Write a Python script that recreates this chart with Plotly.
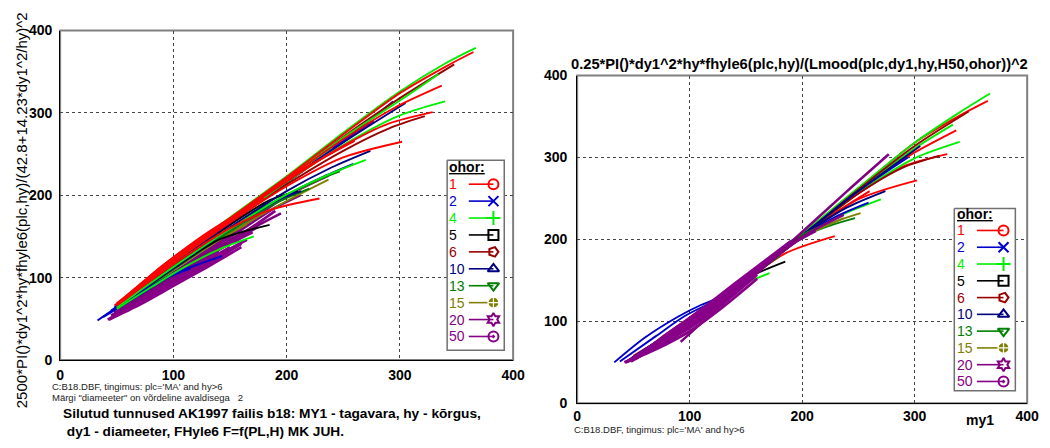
import plotly.graph_objects as go

W, H = 1050, 448

# ---------------- legend categories ----------------
ohor_labels = ['1', '2', '4', '5', '6', '10', '13', '15', '20', '50']
ohor_colors = ['#ff0000', '#0000cc', '#00ee00', '#000000', '#990000',
               '#000080', '#008000', '#808000', '#800080', '#880088']
ohor_symbols = ['circle-open', 'x-thin-open', 'cross-thin-open', 'square-open',
                'pentagon-open', 'triangle-up-open', 'triangle-down-open',
                'circle-cross', 'hexagram-open', 'circle-open-dot']

# ---------------- data: my1 (x), left-panel y, right-panel y per curve ----------------
x_1 = [[50, 100, 150, 200, 250, 300, 340, 365], [52, 100, 150, 200, 250, 295, 337],
       [52, 100, 150, 200, 250, 290, 329], [55, 100, 150, 200, 250, 302],
       [50, 100, 150, 185, 229], [48, 100, 150, 200, 260], [55, 100, 150, 205],
       [50, 100, 150, 180], [52, 100, 140, 165], [50, 90, 125, 150], [55, 90, 120]]
left_1 = [[69, 121, 172, 222, 274, 324, 356, 374], [70, 121, 171, 220, 268, 306, 333],
          [70, 120, 170, 217, 260, 287, 301], [71, 119, 167, 211, 246, 265],
          [66, 116, 160, 182, 196], [66, 120, 171, 220, 266], [72, 122, 172, 221],
          [68, 120, 169, 197], [69, 119, 160, 183], [68, 114, 150, 172], [72, 114, 144]]
right_1 = [[58, 100, 151, 206, 262, 318, 351, 369], [59, 101, 152, 205, 260, 302, 333],
           [58, 100, 151, 204, 256, 289, 304], [60, 101, 151, 203, 249, 272],
           [56, 100, 150, 183, 204], [55, 100, 152, 206, 259], [60, 102, 154, 208],
           [56, 101, 153, 186], [57, 100, 143, 172], [56, 92, 128, 156], [60, 95, 124]]

x_2 = [[48, 100, 150, 200, 250, 294], [45, 100, 150, 200, 230, 259],
       [33, 60, 90, 110, 128, 143], [38, 70, 95, 115]]
left_2 = [[64, 117, 167, 216, 266, 314], [60, 112, 159, 200, 221, 238],
          [48, 73, 97, 110, 119, 126], [52, 79, 100, 111]]
right_2 = [[55, 102, 153, 205, 259, 300], [52, 103, 153, 204, 228, 245],
           [50, 80, 106, 120, 130, 140], [51, 82, 106, 120]]

x_4 = [[55, 100, 150, 200, 250, 300, 340, 367], [55, 100, 150, 200, 250, 300, 334],
       [55, 100, 150, 200, 250, 300, 340], [50, 100, 150, 200, 235, 270],
       [50, 80, 110, 140, 171], [52, 100, 150, 200, 240]]
left_4 = [[71, 122, 173, 223, 276, 326, 360, 379], [70, 120, 170, 220, 270, 315, 347],
          [69, 119, 168, 216, 261, 297, 314], [64, 113, 159, 201, 224, 243],
          [62, 88, 113, 134, 150], [70, 121, 171, 220, 258]]
right_4 = [[59, 101, 153, 207, 263, 318, 355, 378], [58, 100, 152, 205, 260, 311, 340],
           [58, 100, 151, 204, 257, 299, 319], [55, 101, 151, 203, 230, 249],
           [53, 82, 113, 140, 159], [57, 101, 152, 206, 246]]

x_5 = [[50, 100, 140, 162, 185], [50, 100, 150, 185, 210]]
left_5 = [[63, 111, 146, 156, 164], [65, 115, 164, 194, 205]]
right_5 = [[55, 101, 144, 160, 173], [55, 101, 151, 192, 210]]

x_6 = [[55, 100, 150, 200, 250, 300, 348], [55, 100, 150, 200, 250, 290, 322]]
left_6 = [[70, 120, 171, 221, 271, 318, 359], [69, 118, 167, 213, 254, 281, 296]]
right_6 = [[58, 100, 152, 205, 261, 314, 356], [58, 100, 151, 204, 256, 288, 302]]

x_10 = [[50, 100, 150, 200, 250, 305], [50, 100, 150, 200, 240, 274],
        [50, 100, 150, 190, 213]]
left_10 = [[65, 116, 166, 215, 264, 312], [64, 113, 161, 205, 234, 254],
           [63, 112, 160, 193, 205]]
right_10 = [[56, 101, 152, 205, 259, 314], [55, 101, 151, 204, 239, 259],
            [54, 100, 150, 195, 212]]

x_13 = [[50, 100, 150, 200, 225, 247], [50, 100, 150, 190, 220], [50, 100, 150, 180]]
left_13 = [[63, 111, 158, 200, 217, 229], [62, 110, 156, 190, 208], [63, 112, 160, 188]]
right_13 = [[55, 101, 151, 203, 217, 226], [54, 100, 150, 198, 218], [54, 100, 150, 180]]

x_15 = [[50, 100, 150, 200, 230, 252], [50, 100, 150, 200, 237],
        [50, 100, 150, 195], [48, 90, 130, 165]]
left_15 = [[63, 111, 158, 199, 220, 234], [62, 109, 154, 193, 219],
           [62, 110, 157, 196], [60, 102, 138, 165]]
right_15 = [[55, 100, 150, 203, 222, 232], [54, 100, 150, 202, 226],
            [54, 100, 150, 198], [52, 92, 130, 165]]

x_20 = [[48, 100, 150, 200, 237], [48, 100, 150, 190, 212],
        [92, 150, 200, 240, 277], [50, 100, 150, 175], [52, 100, 140, 170, 195]]
left_20 = [[59, 106, 152, 199, 224], [58, 104, 149, 185, 200],
           [108, 166, 216, 256, 290], [58, 102, 146, 165], [59, 101, 136, 160, 178]]
right_20 = [[51, 97, 149, 203, 230], [51, 97, 148, 193, 210],
            [75, 147, 209, 259, 304], [53, 98, 150, 177], [54, 97, 140, 172, 198]]

x_50 = [[43, 70, 100, 130, 160], [45, 70, 100, 130, 155], [47, 75, 100, 130, 150],
        [50, 75, 100, 125, 145], [50, 80, 110, 140], [52, 80, 105, 130],
        [55, 80, 100, 120], [45, 70, 95, 120, 150, 175], [48, 80, 110, 140, 165, 190],
        [42, 70, 100, 130, 160], [46, 75, 105, 135, 165], [50, 80, 110, 140, 170],
        [55, 85, 115, 145], [60, 90, 120, 150], [52, 82, 112, 142, 158]]
left_50 = [[49, 67, 90, 113, 137], [51, 70, 94, 118, 138], [53, 76, 97, 121, 137],
           [56, 78, 101, 122, 139], [57, 83, 108, 132], [58, 85, 106, 127],
           [61, 85, 102, 120], [54, 73, 95, 117, 142, 162], [56, 83, 110, 136, 157, 181],
           [49, 70, 93, 116, 141], [53, 77, 101, 124, 146], [57, 82, 109, 134, 155],
           [61, 88, 114, 139], [65, 92, 119, 144], [58, 85, 112, 137, 146]]
right_50 = [[50, 66, 88, 118, 152], [51, 70, 93, 124, 152], [52, 75, 97, 128, 150],
            [54, 78, 101, 128, 148], [55, 82, 110, 142], [56, 84, 108, 133],
            [58, 85, 104, 124], [52, 72, 96, 122, 154, 180], [53, 83, 114, 146, 172, 198],
            [50, 68, 92, 122, 157], [52, 74, 101, 133, 166], [54, 80, 109, 142, 174],
            [57, 86, 116, 150], [60, 90, 120, 155], [55, 84, 113, 146, 161]]

groups = [('1', x_1, left_1, right_1), ('2', x_2, left_2, right_2),
          ('4', x_4, left_4, right_4), ('5', x_5, left_5, right_5),
          ('6', x_6, left_6, right_6), ('10', x_10, left_10, right_10),
          ('13', x_13, left_13, right_13), ('15', x_15, left_15, right_15),
          ('20', x_20, left_20, right_20), ('50', x_50, left_50, right_50)]

# drawing order per panel (later = on top)
order_left = ['50', '20', '15', '13', '5', '10', '2', '6', '4', '1']
order_right = ['1', '4', '6', '2', '10', '5', '13', '15', '20', '50']
line_widths = {'50': 2.8, '20': 2.5}

left_title = "2500*PI()*dy1^2*hy*fhyle6(plc,hy)/(42.8+14.23*dy1^2/hy)^2"
right_title = "0.25*PI()*dy1^2*hy*fhyle6(plc,hy)/(Lmood(plc,dy1,hy,H50,ohor))^2"
foot1 = "C:B18.DBF, tingimus: plc='MA' and hy>6"
foot2 = "Märgi \"diameeter\" on võrdeline avaldisega   2"
bottom1 = "Silutud tunnused AK1997 failis b18: MY1 - tagavara, hy - kõrgus,"
bottom2 = " dy1 - diameeter, FHyle6 F=f(PL,H) MK JUH."
x_name = "my1"

FONT = "Liberation Sans, Arial, sans-serif"


def px(x):
    return x / W


def py(y):
    return 1 - y / H


def note(x, y, text, size, weight='normal', color='black', anchor='left', angle=0):
    return dict(x=px(x), y=py(y), xref='paper', yref='paper', text=text, showarrow=False,
                xanchor=anchor, yanchor='middle', textangle=angle, borderpad=0,
                font=dict(family=FONT, size=size, color=color, weight=weight))


fig = go.Figure()
gmap = {g[0]: g for g in groups}
for panel, order, xa, ya in [(2, order_left, 'x', 'y'), (3, order_right, 'x2', 'y2')]:
    for lab in order:
        g = gmap[lab]
        col = ohor_colors[ohor_labels.index(lab)]
        lw = line_widths.get(lab, 1.9)
        for xx, yy in zip(g[1], g[panel]):
            fig.add_trace(go.Scatter(x=xx, y=yy, mode='lines',
                                     line=dict(color=col, width=lw, shape='spline', smoothing=0.8),
                                     xaxis=xa, yaxis=ya, showlegend=False, hoverinfo='skip'))

# ---------------- legends (drawn on a pixel-space overlay axis) ----------------
legend_boxes = [dict(x0=450, x1=508, y0=158, y1=355, title_y=165, row0=182.7, dy=17.55,
                     tx=451, lx0=472, lx1=497),
                dict(x0=965, x1=1027, y0=208, y1=397, title_y=214, row0=230.7, dy=17.4,
                     tx=967, lx0=988, lx1=1015)]
annotations = []
for b in legend_boxes:
    fig.add_trace(go.Scatter(x=[b['x0'], b['x1'], b['x1'], b['x0'], b['x0']],
                             y=[b['y0'], b['y0'], b['y1'], b['y1'], b['y0']],
                             mode='lines', fill='toself', fillcolor='white',
                             line=dict(color='#707070', width=1.5),
                             xaxis='x3', yaxis='y3', showlegend=False, hoverinfo='skip'))
    annotations.append(note(b['tx'], b['title_y'], '<u>ohor:</u>', 14, weight='bold'))
    for i, (lab, col, sym) in enumerate(zip(ohor_labels, ohor_colors, ohor_symbols)):
        yy = b['row0'] + i * b['dy']
        fig.add_trace(go.Scatter(x=[b['lx0'], b['lx1']], y=[yy, yy], mode='lines',
                                 line=dict(color=col, width=1.6),
                                 xaxis='x3', yaxis='y3', showlegend=False, hoverinfo='skip'))
        mk = dict(symbol=sym, size=10, color=col, line=dict(color=col, width=2))
        if sym == 'circle-cross':
            mk = dict(symbol=sym, size=11, color=col, line=dict(color='white', width=1.2))
        if sym == 'pentagon-open':
            mk['angle'] = 90
        fig.add_trace(go.Scatter(x=[b['lx1']], y=[yy], mode='markers', marker=mk,
                                 xaxis='x3', yaxis='y3', showlegend=False, hoverinfo='skip'))
        annotations.append(note(b['tx'], yy, lab, 14, color=col))

# ---------------- texts ----------------
annotations += [
    note(18, 210, left_title, 15, anchor='center', angle=-90),
    note(808, 58, right_title, 14.7, weight='bold', anchor='center'),
    note(48, 392.5, foot1, 9.5, color='#222'),
    note(48, 404, foot2, 9.5, color='#222'),
    note(59, 421, bottom1, 13.7, weight='bold'),
    note(59, 439, bottom2, 13.7, weight='bold'),
    note(578, 437.5, foot1, 9.5, color='#222'),
    note(991, 427, x_name, 14, weight='bold', anchor='center'),
]

tickfont = dict(family=FONT, size=14, color='black', weight='bold')
grid = dict(showgrid=True, gridcolor='#444', gridwidth=1, griddash='3px,3px', zeroline=False,
            showline=True, linecolor='black', linewidth=1, ticks='', range=[0, 400], dtick=100,
            tickfont=tickfont, fixedrange=True)

fig.update_layout(
    width=W, height=H, autosize=False, margin=dict(l=0, r=0, t=0, b=0),
    paper_bgcolor='white', plot_bgcolor='rgba(0,0,0,0)', showlegend=False,
    xaxis=dict(domain=[px(57), px(517)], anchor='y', ticklabelstandoff=2, **grid),
    yaxis=dict(domain=[py(365), py(23.4)], anchor='x', ticklabelstandoff=4, **grid),
    xaxis2=dict(domain=[px(582), px(1039)], anchor='y2', ticklabelstandoff=0, **grid),
    yaxis2=dict(domain=[py(410), py(70)], anchor='x2', ticklabelstandoff=6, **grid),
    xaxis3=dict(domain=[0, 1], anchor='y3', range=[0, W], visible=False, fixedrange=True),
    yaxis3=dict(domain=[0, 1], anchor='x3', range=[H, 0], visible=False, fixedrange=True),
    annotations=annotations,
    shapes=[
        dict(type='rect', xref='x domain', yref='y domain', x0=0, x1=1, y0=0, y1=1,
             line=dict(color='#808080', width=2), layer='below'),
        dict(type='rect', xref='x2 domain', yref='y2 domain', x0=0, x1=1, y0=0, y1=1,
             line=dict(color='#808080', width=2), layer='below'),
    ],
)

fig.write_html("out.html")
